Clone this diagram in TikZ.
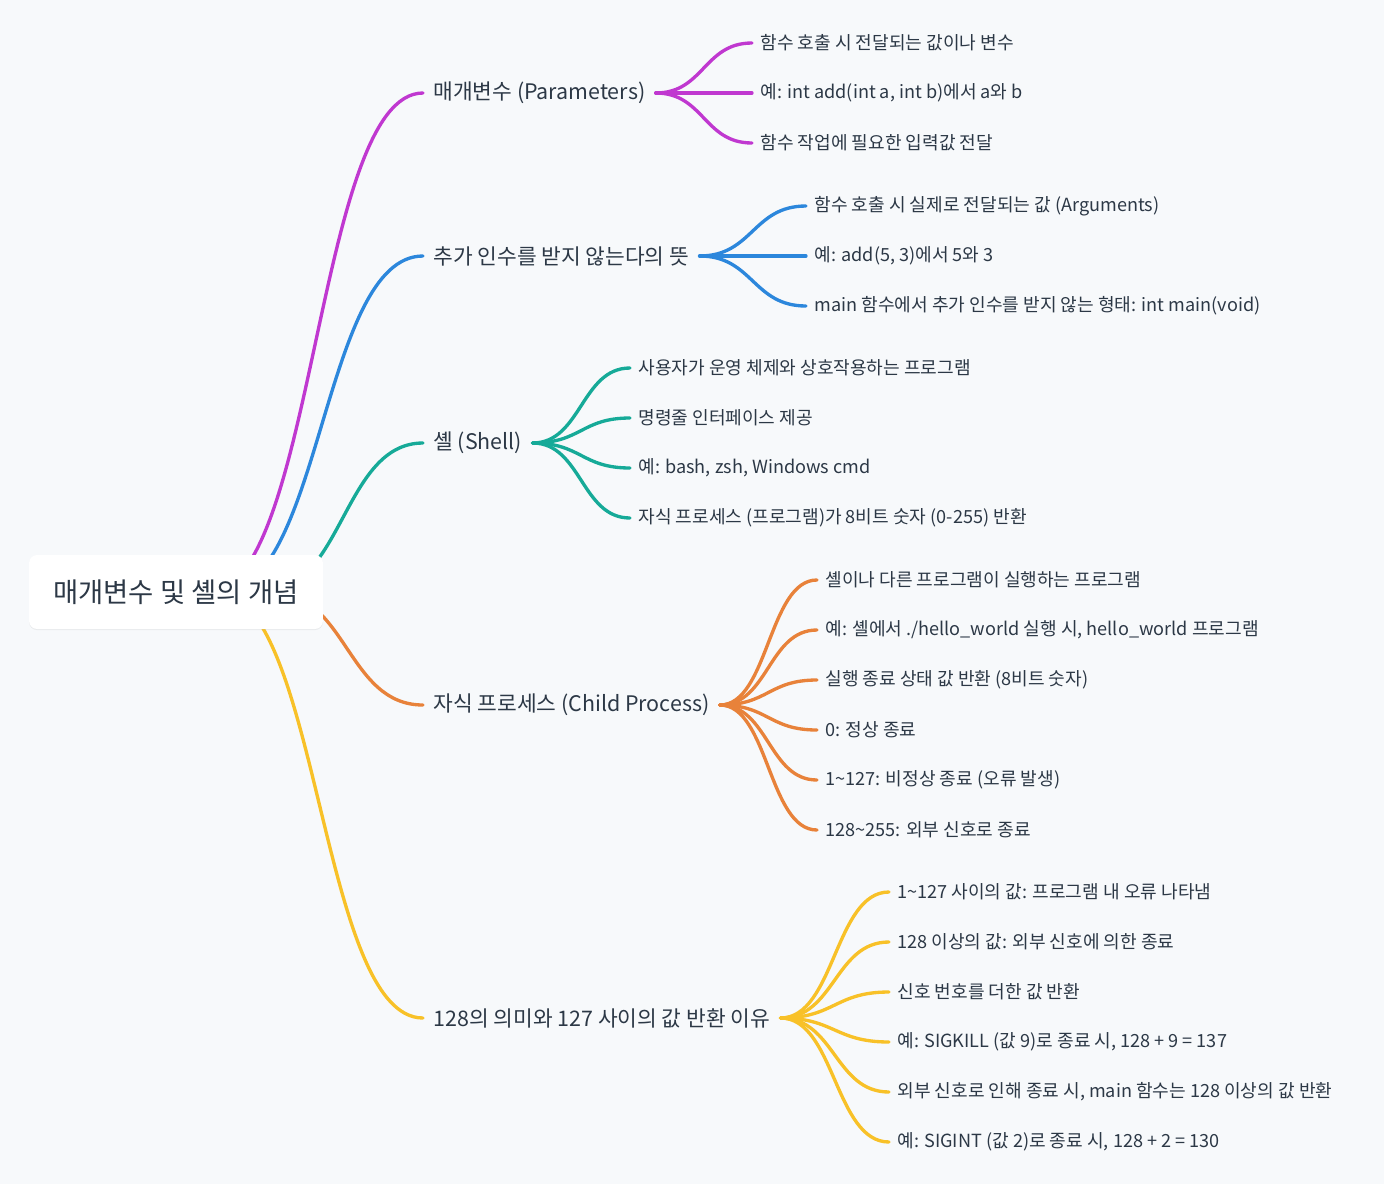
\documentclass[tikz,border=0pt]{standalone}
\usepackage{fontspec}
\setmainfont{Noto Sans CJK KR}
\usepackage{tikz}
\usetikzlibrary{calc, shadows}

\definecolor{ink}{HTML}{2C3846}
\definecolor{paper}{HTML}{F7F9FB}
\definecolor{cpurple}{HTML}{C038D0}
\definecolor{cblue}{HTML}{2C87DC}
\definecolor{cteal}{HTML}{16AA98}
\definecolor{corange}{HTML}{E8823A}
\definecolor{cyellow}{HTML}{F8C128}

\pgfdeclarelayer{background}
\pgfsetlayers{background,main}

\begin{document}
\begin{tikzpicture}[
      x=0.02cm, y=-0.02cm,
      rootbox/.style={fill=white, rounded corners=0.16cm,
                      minimum width=5.88cm, minimum height=1.48cm,
                      text=ink, font=\fontsize{15.6pt}{18pt}\selectfont,
                      drop shadow={shadow xshift=0pt, shadow yshift=-0.6pt,
                                   opacity=0.06, fill=black}},
      branch/.style={anchor=west, inner xsep=0.2cm, inner ysep=2pt,
                     text=ink, font=\fontsize{12.2pt}{14pt}\selectfont},
      leaf/.style={anchor=west, inner xsep=0.16cm, inner ysep=2pt,
                   text=ink, font=\fontsize{10.3pt}{12pt}\selectfont},
      link/.style={line width=1.9pt, line cap=round,
                   to path={.. controls ($(\tikztostart)!0.5!(\tikztostart -| \tikztotarget)$)
                            and ($(\tikztotarget)!0.5!(\tikztotarget -| \tikztostart)$)
                            .. (\tikztotarget)}}
    ]

    \useasboundingbox (0,0) rectangle (1384,1184);

    %% ---- root ----
    \node[rootbox] (root) at (176,592) {매개변수 및 셸의 개념};

    %% ---- main branches ----
    \node[branch] at (423,93)   (par)   {매개변수 (Parameters)};
    \node[branch] at (423,256)  (noarg) {추가 인수를 받지 않는다의 뜻};
    \node[branch] at (423,443)  (shell) {셸 (Shell)};
    \node[branch] at (423,705)  (child) {자식 프로세스 (Child Process)};
    \node[branch] at (423,1018) (ret)   {128의 의미와 127 사이의 값 반환 이유};

    %% ---- leaves: parameters ----
    \node[leaf] at (752,43)  (par1) {함수 호출 시 전달되는 값이나 변수};
    \node[leaf] at (752,93)  (par2) {예: int add(int a, int b)에서 a와 b};
    \node[leaf] at (752,143) (par3) {함수 작업에 필요한 입력값 전달};

    %% ---- leaves: no arguments ----
    \node[leaf] at (806,206) (noarg1) {함수 호출 시 실제로 전달되는 값 (Arguments)};
    \node[leaf] at (806,256) (noarg2) {예: add(5, 3)에서 5와 3};
    \node[leaf] at (806,306) (noarg3) {main 함수에서 추가 인수를 받지 않는 형태: int main(void)};

    %% ---- leaves: shell ----
    \node[leaf] at (630,368) (shell1) {사용자가 운영 체제와 상호작용하는 프로그램};
    \node[leaf] at (630,418) (shell2) {명령줄 인터페이스 제공};
    \node[leaf] at (630,468) (shell3) {예: bash, zsh, Windows cmd};
    \node[leaf] at (630,518) (shell4) {자식 프로세스 (프로그램)가 8비트 숫자 (0-255) 반환};

    %% ---- leaves: child process ----
    \node[leaf] at (817,580) (child1) {셸이나 다른 프로그램이 실행하는 프로그램};
    \node[leaf] at (817,630) (child2) {예: 셸에서 ./hello\_world 실행 시, hello\_world 프로그램};
    \node[leaf] at (817,680) (child3) {실행 종료 상태 값 반환 (8비트 숫자)};
    \node[leaf] at (817,730) (child4) {0: 정상 종료};
    \node[leaf] at (817,780) (child5) {1\textasciitilde127: 비정상 종료 (오류 발생)};
    \node[leaf] at (817,830) (child6) {128\textasciitilde255: 외부 신호로 종료};

    %% ---- leaves: return values ----
    \node[leaf] at (889,892)  (ret1) {1\textasciitilde127 사이의 값: 프로그램 내 오류 나타냄};
    \node[leaf] at (889,942)  (ret2) {128 이상의 값: 외부 신호에 의한 종료};
    \node[leaf] at (889,992)  (ret3) {신호 번호를 더한 값 반환};
    \node[leaf] at (889,1042) (ret4) {예: SIGKILL (값 9)로 종료 시, 128 + 9 = 137};
    \node[leaf] at (889,1092) (ret5) {외부 신호로 인해 종료 시, main 함수는 128 이상의 값 반환};
    \node[leaf] at (889,1142) (ret6) {예: SIGINT (값 2)로 종료 시, 128 + 2 = 130};

    %% link origins, hidden behind the root box
    \coordinate (r1) at ([xshift=0.64cm]root.center);
    \coordinate (r2) at ([xshift=0.90cm]root.center);
    \coordinate (r3) at ([xshift=1.74cm]root.center);
    \coordinate (r4) at ([xshift=1.90cm]root.center);
    \coordinate (r5) at ([xshift=0.80cm]root.center);

    \begin{pgfonlayer}{background}
      \fill[paper] (0,0) rectangle (1384,1184);

      %% root -> branches
      \draw[link, cpurple] (r1) to (par.west);
      \draw[link, cblue]   (r2) to (noarg.west);
      \draw[link, cteal]   (r3) to (shell.west);
      \draw[link, corange] (r4) to (child.west);
      \draw[link, cyellow] (r5) to (ret.west);

      %% parameters
      \draw[link, cpurple] (par.east) to (par1.west);
      \draw[link, cpurple] (par.east) to (par2.west);
      \draw[link, cpurple] (par.east) to (par3.west);

      %% no arguments
      \draw[link, cblue] (noarg.east) to (noarg1.west);
      \draw[link, cblue] (noarg.east) to (noarg2.west);
      \draw[link, cblue] (noarg.east) to (noarg3.west);

      %% shell
      \draw[link, cteal] (shell.east) to (shell1.west);
      \draw[link, cteal] (shell.east) to (shell2.west);
      \draw[link, cteal] (shell.east) to (shell3.west);
      \draw[link, cteal] (shell.east) to (shell4.west);

      %% child process
      \draw[link, corange] (child.east) to (child1.west);
      \draw[link, corange] (child.east) to (child2.west);
      \draw[link, corange] (child.east) to (child3.west);
      \draw[link, corange] (child.east) to (child4.west);
      \draw[link, corange] (child.east) to (child5.west);
      \draw[link, corange] (child.east) to (child6.west);

      %% return values
      \draw[link, cyellow] (ret.east) to (ret1.west);
      \draw[link, cyellow] (ret.east) to (ret2.west);
      \draw[link, cyellow] (ret.east) to (ret3.west);
      \draw[link, cyellow] (ret.east) to (ret4.west);
      \draw[link, cyellow] (ret.east) to (ret5.west);
      \draw[link, cyellow] (ret.east) to (ret6.west);
    \end{pgfonlayer}

  \end{tikzpicture}
\end{document}
